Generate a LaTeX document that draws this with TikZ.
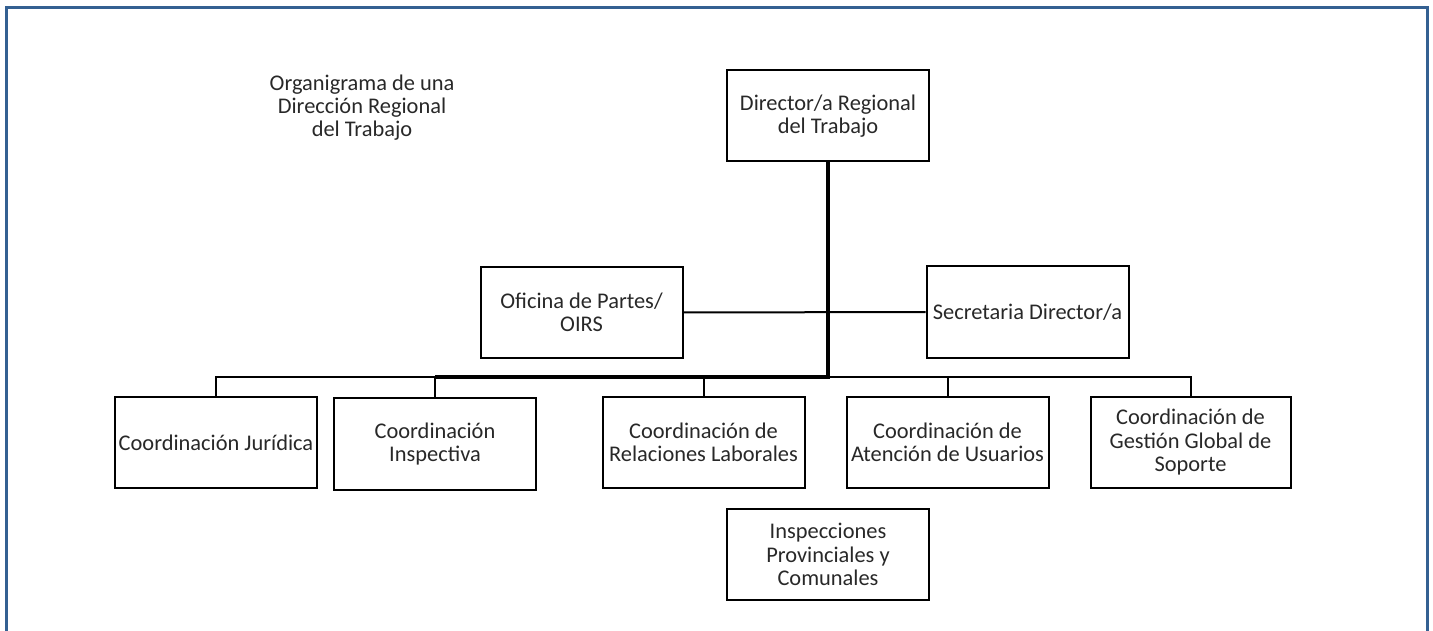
\documentclass[tikz,border=0pt]{standalone}
\usepackage{fontspec}
\setmainfont{Carlito}
\definecolor{framecol}{RGB}{52,96,146}
\definecolor{txt}{RGB}{40,40,40}
\tikzset{
  orgbox/.style={draw=black, line width=2pt, rectangle, minimum width=202pt, minimum height=91pt,
    inner sep=1pt, align=center, text=txt, font=\fontsize{22.4}{23.5}\selectfont},
  thinline/.style={draw=black, line width=2pt},
  thickline/.style={draw=black, line width=3.5pt},
  frameline/.style={draw=framecol, line width=3pt}
}
\begin{document}
\begin{tikzpicture}[x=1pt,y=-1pt]
\useasboundingbox (0,0) rectangle (1433,631);
\draw[frameline] (6.5,631) -- (6.5,7.5) -- (1427.5,7.5) -- (1427.5,631);

\node[text=txt, align=center, font=\fontsize{22.4}{23}\selectfont] (title) at (362,108) {Organigrama de una\\Dirección Regional\\del Trabajo};

\node[orgbox] (dir) at (828,116) {Director/a Regional\\del Trabajo};
\node[orgbox] (ofi) at (581.5,312.5) {Oficina de Partes/\\OIRS};
\node[orgbox] (sec) at (1027.5,312) {Secretaria Director/a};
\node[orgbox] (jur) at (216,442.5) {Coordinación Jurídica};
\node[orgbox, minimum height=92pt] (insp) at (435,444) {Coordinación\\Inspectiva};
\node[orgbox] (rel) at (703.5,442.5) {Coordinación de\\Relaciones Laborales};
\node[orgbox] (aten) at (947.5,442.5) {Coordinación de\\Atención de Usuarios};
\node[orgbox, minimum width=200pt] (gest) at (1190.5,442.5) {Coordinación de\\Gestión Global de\\Soporte};
\node[orgbox] (inspec) at (828,554.5) {Inspecciones\\Provinciales y\\Comunales};

\coordinate (busy) at (0,377);

\draw[thinline] (ofi.east) -- (sec.west);
\draw[thinline] (jur.north) -- (jur.north |- busy) -- (gest.north |- busy) -- (gest.north);
\draw[thinline] (insp.north) -- (insp.north |- busy);
\draw[thinline] (rel.north) -- (rel.north |- busy);
\draw[thinline] (aten.north) -- (aten.north |- busy);
\draw[thickline] (dir.south) -- (dir.south |- busy) -- (insp.north |- busy);
\end{tikzpicture}
\end{document}
